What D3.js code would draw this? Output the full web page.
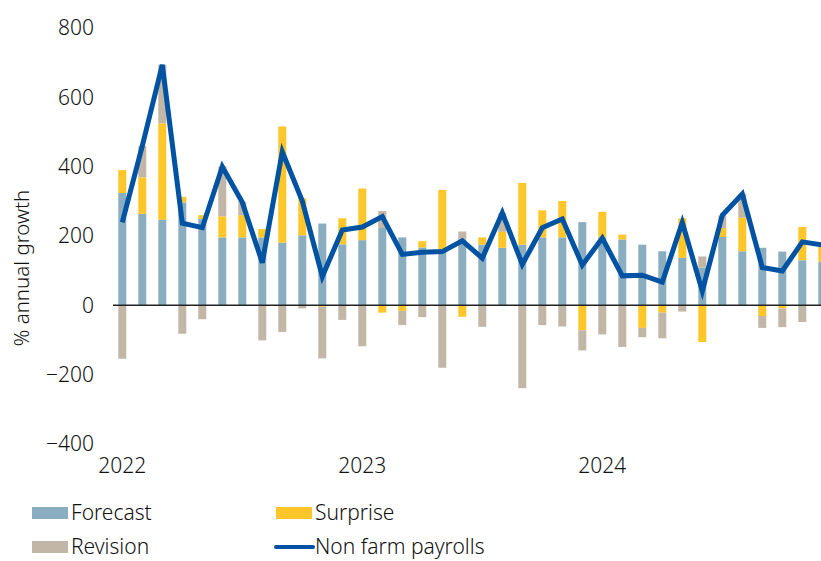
<!DOCTYPE html>
<html>
<head>
<meta charset="utf-8">
<script src="https://cdn.jsdelivr.net/npm/d3@7"></script>
<style>
  body { margin: 0; background: #fff; }
  svg { display: block; font-family: "Noto Sans", sans-serif; font-weight: 350; }
</style>
</head>
<body>
<svg id="chart" width="821" height="561"></svg>
<script>
// monthly, Jan 2022 .. Dec 2024
var months = d3.range(36).map(function(i) { return new Date(2022, i, 1); });
var forecast = [324,264,247,297,249,196,196,196,181,202,236,176,
                188,223,196,167,162,178,175,166,175,196,196,240,
                196,190,175,156,137,109,197,156,166,155,130,126];
var surprise = [66,105,278,16,11,61,64,24,335,107,-4,75,
                149,-21,-16,18,171,-33,21,46,178,78,105,-72,
                74,14,-65,-21,114,-106,26,97,-31,-9,96,43];
var revision = [-154,91,169,-82,-40,144,39,-101,-77,-9,-149,-42,
                -118,49,-41,-34,-180,35,-62,54,-239,-57,-61,-58,
                -84,-120,-27,-74,-18,32,36,68,-34,-54,-48,0];
var payrolls = [239,460,694,237,224,400,297,123,443,301,83,217,
                226,256,147,153,155,186,136,267,118,224,249,116,
                194,85,87,67,239,41,260,321,109,99,183,174];
var yTicks = [-400,-200,0,200,400,600,800];
var yearTicks = [2022,2023,2024];

var colors = { forecast: "#8aaec0", surprise: "#ffc629", revision: "#c2b6a6" };
var lineColor = "#0052a3";

var svg = d3.select("#chart");

var table = months.map(function(m, i) {
  return { date: m, forecast: forecast[i], surprise: surprise[i], revision: revision[i] };
});

var x = d3.scaleBand()
  .domain(d3.range(months.length))
  .range([112.3, 832.3])
  .paddingInner(0.6)
  .paddingOuter(0.3);

var y = d3.scaleLinear().domain([-400, 800]).range([444, 28]);

var stack = d3.stack()
  .keys(["forecast", "surprise", "revision"])
  .offset(d3.stackOffsetDiverging);
var series = stack(table);

// bars
svg.append("g").selectAll("g")
  .data(series)
  .join("g")
    .attr("fill", function(s) { return colors[s.key]; })
  .selectAll("rect")
  .data(function(s) { return s; })
  .join("rect")
    .attr("x", function(d, i) { return x(i); })
    .attr("width", x.bandwidth())
    .attr("y", function(d) { return y(Math.max(d[0], d[1])); })
    .attr("height", function(d) { return Math.abs(y(d[0]) - y(d[1])); });

// zero line
svg.append("line")
  .attr("x1", 113).attr("x2", 821)
  .attr("y1", y(0)).attr("y2", y(0))
  .attr("stroke", "#222").attr("stroke-width", 1.5);

// payrolls line
svg.append("path")
  .datum(payrolls)
  .attr("fill", "none")
  .attr("stroke", lineColor)
  .attr("stroke-width", 5)
  .attr("stroke-linejoin", "miter")
  .attr("d", d3.line()
    .x(function(d, i) { return x(i) + x.bandwidth() / 2; })
    .y(function(d) { return y(d); }));

// y axis labels
var yAxis = d3.axisLeft(y).tickValues(yTicks).tickSize(0).tickPadding(0);
var ya = svg.append("g").attr("transform", "translate(94,0)").call(yAxis);
ya.select(".domain").remove();
ya.selectAll("text")
  .style("font-size", "21px")
  .style("font-family", "'Noto Sans', sans-serif")
  .style("font-weight", 350)
  .attr("fill", "#111");

svg.append("text")
  .attr("transform", "translate(29,268) rotate(-90)")
  .attr("text-anchor", "middle")
  .style("font-size", "20.5px")
  .attr("fill", "#111")
  .text("% annual growth");

// x axis year labels
svg.append("g").selectAll("text")
  .data(yearTicks)
  .join("text")
    .attr("x", function(yr) {
      var idx = months.findIndex(function(m) { return m.getFullYear() === yr; });
      return x(idx) + x.bandwidth() / 2;
    })
    .attr("y", 473)
    .attr("text-anchor", "middle")
    .style("font-size", "21px")
    .attr("fill", "#111")
    .text(function(d) { return d; });

// legend
var legend = [
  { name: "Forecast", type: "rect", color: colors.forecast, lx: 32, ly: 513 },
  { name: "Surprise", type: "rect", color: colors.surprise, lx: 276, ly: 513 },
  { name: "Revision", type: "rect", color: colors.revision, lx: 32, ly: 547 },
  { name: "Non farm payrolls", type: "line", color: lineColor, lx: 276, ly: 547 }
];
var lg = svg.append("g").selectAll("g").data(legend).join("g")
  .attr("transform", function(d) { return "translate(" + d.lx + "," + d.ly + ")"; });
lg.filter(function(d) { return d.type === "rect"; })
  .append("rect")
  .attr("x", 0).attr("y", -6).attr("width", 36).attr("height", 12)
  .attr("fill", function(d) { return d.color; });
lg.filter(function(d) { return d.type === "line"; })
  .append("line")
  .attr("x1", 0).attr("x2", 37).attr("y1", 0).attr("y2", 0)
  .attr("stroke", function(d) { return d.color; })
  .attr("stroke-width", 4)
  .attr("stroke-linecap", "round");
lg.append("text")
  .attr("x", 39).attr("y", 7)
  .style("font-size", "21px")
  .attr("fill", "#111")
  .text(function(d) { return d.name; });
</script>
</body>
</html>
